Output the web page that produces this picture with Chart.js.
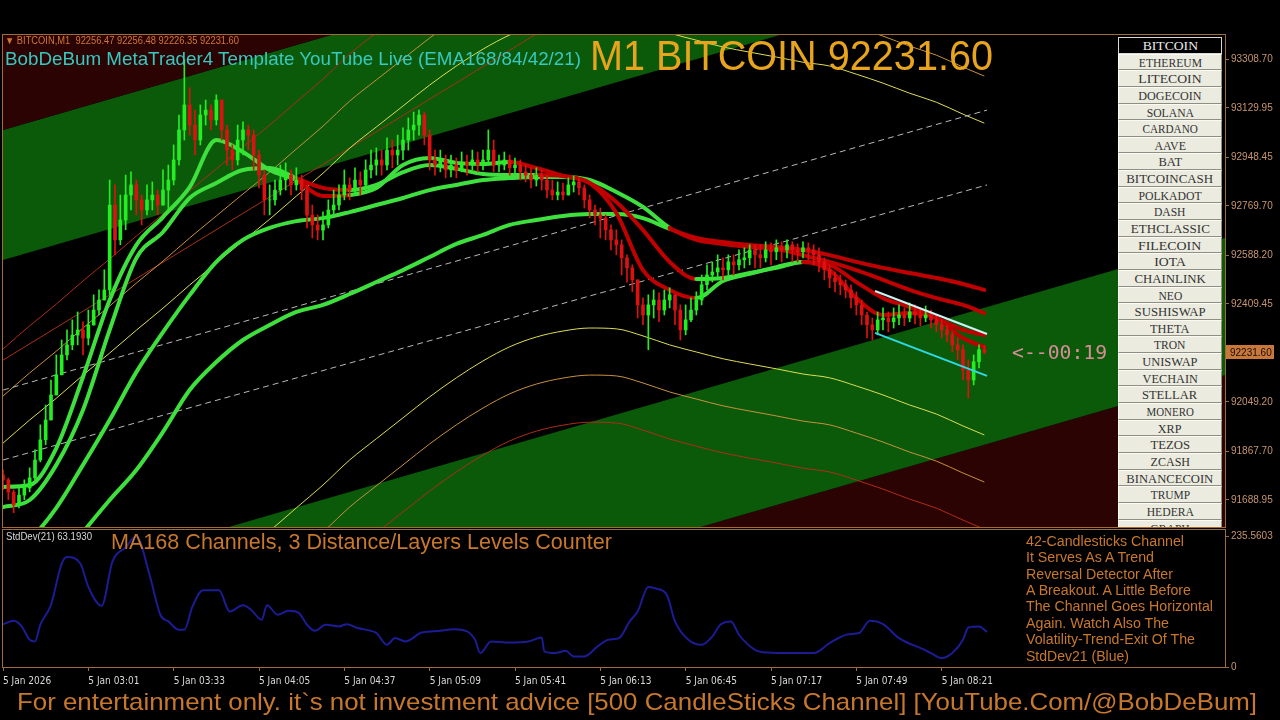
<!DOCTYPE html>
<html>
<head>
<meta charset="utf-8">
<script src="https://cdn.jsdelivr.net/npm/chart.js@4.4.1/dist/chart.umd.min.js"></script>
<style>
  html, body { margin:0; padding:0; background:#000; width:1280px; height:720px; overflow:hidden;
    font-family:"Liberation Sans", Arial, sans-serif; }
  canvas { position:absolute; left:0; }
  #main { top:0; }
  #sub { top:528px; }
  .t { position:absolute; white-space:nowrap; line-height:1; transform-origin:0 0; z-index:5; }
  #coins { position:absolute; left:1118px; top:37px; width:104px; height:490px; overflow:hidden; z-index:4; }
  .coin { height:14.65px; line-height:15px; border:1px solid; border-color:#fbfbf4 #8e8e84 #8e8e84 #fbfbf4;
    background:#ebebdf; color:#333; text-align:center; font-family:"Liberation Serif", serif; font-size:13px; overflow:hidden; }
  .coin span { display:inline-block; white-space:nowrap; transform-origin:50% 50%; }
  .coin.sel { background:#000; color:#ececec; border-color:#d8d8d8; height:14.6px; }
</style>
</head>
<body>
<canvas id="main" width="1280" height="530"></canvas>
<canvas id="sub" width="1280" height="170"></canvas>
<div id="coins"></div>

<div class="t" style="left:5px;top:36px;font-size:10px;color:#d07838" data-w="234">&#9660; BITCOIN,M1&nbsp; 92256.47 92256.48 92226.35 92231.60</div>
<div class="t" style="left:5px;top:49px;font-size:19px;color:#38c8c0" data-w="576">BobDeBum MetaTrader4 Template YouTube Live (EMA168/84/42/21)</div>
<div class="t" style="left:590px;top:35px;font-size:42px;color:#e8a41c" data-w="403">M1 BITCOIN 92231.60</div>
<div class="t" style="left:1012px;top:342px;font-size:20px;color:#d88c96;font-family:'DejaVu Sans Mono',monospace" data-w="95">&lt;--00:19</div>

<div class="t" style="left:6px;top:532px;font-size:10px;color:#d8d8d8" data-w="86">StdDev(21) 63.1930</div>
<div class="t" style="left:111px;top:531px;font-size:22px;color:#c8782c" data-w="501">MA168 Channels, 3 Distance/Layers Levels Counter</div>

<div class="t" style="left:1026px;top:534px;font-size:14px;color:#c8782c" data-w="158">42-Candlesticks Channel</div>
<div class="t" style="left:1026px;top:550px;font-size:14px;color:#c8782c" data-w="128">It Serves As A Trend</div>
<div class="t" style="left:1026px;top:567px;font-size:14px;color:#c8782c" data-w="147">Reversal Detector After</div>
<div class="t" style="left:1026px;top:583px;font-size:14px;color:#c8782c" data-w="165">A Breakout. A Little Before</div>
<div class="t" style="left:1026px;top:599px;font-size:14px;color:#c8782c" data-w="187">The Channel Goes Horizontal</div>
<div class="t" style="left:1026px;top:616px;font-size:14px;color:#c8782c" data-w="143">Again. Watch Also The</div>
<div class="t" style="left:1026px;top:632px;font-size:14px;color:#c8782c" data-w="169">Volatility-Trend-Exit Of The</div>
<div class="t" style="left:1026px;top:649px;font-size:14px;color:#c8782c" data-w="103">StdDev21 (Blue)</div>

<div class="t" style="left:17px;top:690px;font-size:24px;color:#c8782c" data-w="1240">For entertainment only. it`s not investment advice [500 CandleSticks Channel] [YouTube.Com/@BobDeBum]</div>

<script>
// ---- chart data (prices in USD, time in minutes from 5 Jan 02:29) ----
const chartMinutes = 458.25;          // visible time window incl. right margin
const priceTicks = [93308.70, 93129.95, 92948.45, 92769.70, 92588.20, 92409.45, 92049.20, 91867.70, 91688.95];
const priceMin = 91589.7, priceMax = 93398.0;

const firstOpen = 91781;
const closes = [
  91763,91718,91671,91707,91733,91770,91836,91910,91983,92075,
  92149,92222,92259,92295,92314,92284,92332,92387,92424,92461,
  92773,92645,92718,92810,92847,92792,92755,92792,92810,92773,
  92828,92865,92939,93049,93141,93067,93012,93104,93122,93086,
  93159,93049,92975,92939,93012,93049,93030,92957,92883,92792,
  92792,92828,92865,92883,92847,92865,92828,92736,92700,92681,
  92700,92755,92773,92810,92847,92828,92865,92847,92902,92920,
  92939,92920,92975,92957,92975,93012,93049,93067,93104,93030,
  92939,92920,92939,92902,92920,92902,92931,92920,92939,92920,
  92939,92975,92920,92920,92939,92910,92920,92895,92883,92865,
  92883,92865,92828,92810,92821,92810,92847,92858,92836,92792,
  92755,92736,92725,92682,92645,92627,92579,92542,92498,92406,
  92369,92406,92424,92387,92424,92443,92387,92314,92351,92387,
  92424,92480,92516,92527,92542,92535,92564,92553,92572,92579,
  92608,92590,92579,92608,92601,92616,92608,92627,92608,92601,
  92616,92608,92590,92564,92535,92505,92491,92480,92461,92432,
  92406,92369,92333,92314,92351,92358,92344,92358,92369,92358,
  92380,92369,92358,92369,92351,92333,92314,92296,92259,92241,
  92167,92130,92197,92241,92231.60
];
const highs = [
  91800,91770,91726,91733,91763,91807,91873,91965,92038,92130,
  92222,92277,92314,92351,92380,92344,92387,92443,92461,92535,
  92865,92847,92810,92883,92895,92865,92810,92847,92858,92828,
  92902,92920,92994,93104,93307,93204,93122,93141,93159,93141,
  93178,93159,93067,92994,93067,93079,93067,93049,92975,92902,
  92847,92865,92920,92928,92902,92910,92883,92847,92773,92737,
  92748,92792,92828,92847,92902,92873,92910,92895,92939,92975,
  92983,92975,93020,93012,93030,93057,93093,93115,93122,93115,
  93049,92975,92975,92957,92957,92946,92968,92957,92975,92968,
  92975,93049,93012,92957,92968,92957,92946,92939,92920,92910,
  92910,92902,92883,92865,92858,92854,92873,92880,92873,92847,
  92810,92773,92762,92737,92700,92682,92645,92590,92553,92498,
  92432,92443,92461,92450,92461,92469,92443,92406,92406,92432,
  92454,92516,92553,92564,92590,92579,92590,92590,92608,92616,
  92627,92627,92627,92638,92634,92645,92638,92645,92638,92630,
  92638,92634,92627,92616,92579,92553,92527,92516,92498,92480,
  92454,92424,92380,92358,92380,92395,92380,92395,92406,92395,
  92413,92406,92395,92402,92387,92369,92351,92333,92307,92285,
  92259,92204,92222,92259,92256.48
];
const lows = [
  91726,91690,91642,91660,91690,91719,91763,91829,91892,91983,
  92075,92167,92204,92241,92259,92222,92259,92351,92369,92424,
  92443,92590,92627,92682,92755,92737,92700,92737,92755,92737,
  92773,92748,92847,92920,93012,93030,92957,92994,93067,93049,
  93067,93012,92920,92902,92920,92957,92975,92902,92836,92737,
  92737,92773,92810,92828,92810,92828,92792,92689,92652,92645,
  92645,92689,92737,92755,92792,92792,92810,92810,92828,92873,
  92883,92883,92902,92910,92920,92939,92975,93012,93030,92994,
  92902,92883,92895,92873,92876,92873,92895,92883,92902,92895,
  92902,92920,92895,92895,92902,92883,92883,92865,92858,92836,
  92843,92828,92799,92792,92792,92792,92810,92821,92810,92762,
  92726,92700,92652,92645,92608,92590,92516,92490,92454,92358,
  92333,92241,92358,92344,92369,92395,92333,92277,92296,92344,
  92369,92406,92461,92490,92505,92498,92516,92516,92535,92542,
  92553,92542,92542,92564,92553,92572,92564,92579,92564,92564,
  92579,92572,92553,92527,92498,92469,92454,92443,92432,92395,
  92369,92333,92285,92277,92296,92314,92307,92321,92333,92329,
  92344,92336,92329,92344,92321,92307,92285,92270,92233,92204,
  92130,92064,92112,92174,92226.35
];
const barMinutes = 2;

// EMA ribbon, sampled every 10 minutes; 1 = rising (green), 0 = falling (red)
const emaTimes = [0,10,20,30,40,50,60,70,80,90,100,110,120,130,140,150,160,170,180,190,200,210,220,230,240,250,260,270,280,290,300,310,320,330,340,350,360,368];
const ema21 = [91737,91744,91880,92141,92424,92626,92729,92839,93012,92968,92902,92865,92806,92810,92836,92920,92946,92928,92924,92931,92909,92880,92854,92744,92534,92461,92431,92494,92520,92545,92564,92534,92431,92369,92376,92358,92284,92251];
const ema42 = [91663,91689,91818,92020,92314,92578,92674,92799,92854,92902,92909,92872,92836,92828,92847,92894,92920,92906,92887,92883,92883,92880,92854,92784,92681,92564,92501,92505,92523,92542,92564,92553,92490,92431,92398,92358,92314,92295];
const ema84 = [91468,91542,91660,91818,91983,92159,92306,92442,92564,92645,92689,92714,92725,92747,92773,92799,92828,92847,92865,92872,92876,92876,92865,92821,92766,92689,92645,92630,92619,92611,92589,92564,92534,92498,92461,92431,92406,92376];
const ema168 = [91174,91321,91450,91571,91689,91799,91939,92093,92196,92277,92332,92380,92406,92446,92490,92534,92582,92630,92663,92700,92718,92733,92740,92740,92725,92685,92652,92637,92626,92619,92608,92589,92564,92542,92523,92505,92483,92461];
const ema21Up  = [1,1,1,1,1,1,1,1,1,1,1,1,0,0,1,1,1,1,1,1,0,0,0,0,0,0,0,1,1,1,1,0,0,0,0,0,0,0];
const ema42Up  = [1,1,1,1,1,1,1,1,1,1,1,1,0,0,1,1,1,1,1,1,1,0,0,0,0,0,0,1,1,1,1,0,0,0,0,0,0,0];
const ema84Up  = [1,1,1,1,1,1,1,1,1,1,1,1,1,1,1,1,1,1,1,1,1,1,1,1,1,1,0,0,0,0,0,0,0,0,0,0,0,0];
const ema168Up = [1,1,1,1,1,1,1,1,1,1,1,1,1,1,1,1,1,1,1,1,1,1,1,1,1,1,0,0,0,0,0,0,0,0,0,0,0,0];

// MA168 channel centre and its 3 distance levels
const channelMid = [91325,91410,91490,91575,91656,91740,91821,91906,91987,92068,92148,92233,92317,92409,92487,92564,92641,92711,92773,92825,92861,92883,92894,92891,92865,92832,92806,92781,92762,92744,92725,92711,92681,92648,92611,92578,92534,92501];
const channelLevels = [573, 746, 919];

// older trend line on the left
const trendTimes = [0, 200];
const trendPrices = [92203, 93402];

// trend band boundaries at start / end of the window
const bandTimes = [0, 458.25];
const bandStart = [93048.8, 92571.0, 91348.9, 90847.2];
const bandEnd   = [94349.9, 93872.1, 92651.9, 92148.3];

// dashed regression lines
const dashTimes = [0, 369];
const dashStart = [92093, 91836];
const dashEnd   = [93122, 92847];

// 42-candlestick channel
const chanTimes = [327, 369];
const chanUpper = [92457, 92299];
const chanLower = [92303, 92145];

// StdDev(21)
const sdTime  = [0,4,7,10,12,14,18,22,24,29,32,37,41,46,50,55,59,62,66,68,71,75,81,85,90,93,97,99,103,107,111,114,117,121,126,129,133,138,140,144,147,151,157,164,169,174,177,179,183,190,197,202,203,207,211,214,218,223,227,231,235,238,242,245,249,252,257,262,266,269,273,276,282,287,295,304,310,317,321,325,330,336,345,348,352,356,360,362,366,369];
const sdValue = [77,83,73,49,46,76,112,186,198,186,144,110,189,215,235,165,94,82,67,67,108,138,138,100,111,103,85,111,94,101,97,76,65,76,73,77,70,65,61,40,52,46,62,65,68,64,49,25,46,44,46,53,28,25,29,19,19,37,49,52,82,100,144,141,129,82,49,40,55,76,82,58,31,26,25,25,43,59,61,83,77,52,32,25,16,25,49,71,73,63.193];
const sdTicks = [235.5603, 0];
const sdMax = 246.35;

const timeTicks  = [0,32,64,96,128,160,192,224,256,288,320,352];
const timeLabels = ['5 Jan 2026','5 Jan 03:01','5 Jan 03:33','5 Jan 04:05','5 Jan 04:37','5 Jan 05:09','5 Jan 05:41','5 Jan 06:13','5 Jan 06:45','5 Jan 07:17','5 Jan 07:49','5 Jan 08:21'];

const coins = ['BITCOIN','ETHEREUM','LITECOIN','DOGECOIN','SOLANA','CARDANO','AAVE','BAT','BITCOINCASH','POLKADOT','DASH','ETHCLASSIC','FILECOIN','IOTA','CHAINLINK','NEO','SUSHISWAP','THETA','TRON','UNISWAP','VECHAIN','STELLAR','MONERO','XRP','TEZOS','ZCASH','BINANCECOIN','TRUMP','HEDERA','GRAPH'];

// ---- colours ----
const FRAME = '#a06c3a';
const AXIS_TXT = '#c8966e';
const BAND_GREEN = '#0a5a0a', BAND_RED = '#2c0303';
const EMA_GREEN = '#3ee03e', EMA_RED = '#c00000';
const BULL = '#22ee22', BEAR = '#dd1111';
const LEVEL_COLORS = ['#dcdc55', '#c8903c', '#b02c18'];

// ---- coin buttons ----
const coinBox = document.getElementById('coins');
coins.forEach((c, i) => {
  const d = document.createElement('div');
  d.className = 'coin' + (i === 0 ? ' sel' : '');
  const s = document.createElement('span');
  s.textContent = c;
  d.appendChild(s);
  coinBox.appendChild(d);
  const w = s.getBoundingClientRect().width;
  if (w > 0) s.style.transform = 'scaleX(' + (c.length * 7.9 / w) + ')';
});

// ---- helpers ----
const pts = (xs, ys) => xs.map((x, i) => ({ x: x, y: ys[i] }));
const opens = closes.map((c, i) => i === 0 ? firstOpen : closes[i - 1]);
const candleTime = closes.map((c, i) => i * barMinutes);
const candleColor = i => closes[i] >= opens[i] ? BULL : BEAR;

function lineSet(data, color, width, order, extra) {
  return Object.assign({
    type: 'line', data: data, borderColor: color, borderWidth: width,
    pointRadius: 0, fill: false, order: order, clip: 0, tension: 0
  }, extra || {});
}

function emaSet(values, up, order) {
  return lineSet(pts(emaTimes, values), EMA_GREEN, 4, order, {
    cubicInterpolationMode: 'monotone',
    borderCapStyle: 'round', borderJoinStyle: 'round',
    segment: { borderColor: c => up[c.p1DataIndex] ? EMA_GREEN : EMA_RED }
  });
}

const datasets = [];
// bands (drawn lowest)
datasets.push(lineSet(pts(bandTimes, [bandStart[0], bandEnd[0]]), 'rgba(0,0,0,0)', 0, 100, { fill: 'end', backgroundColor: BAND_RED }));
datasets.push(lineSet(pts(bandTimes, [bandStart[1], bandEnd[1]]), 'rgba(0,0,0,0)', 0, 100, { fill: '-1', backgroundColor: BAND_GREEN }));
datasets.push(lineSet(pts(bandTimes, [bandStart[2], bandEnd[2]]), 'rgba(0,0,0,0)', 0, 100, { fill: '+1', backgroundColor: BAND_GREEN }));
datasets.push(lineSet(pts(bandTimes, [bandStart[3], bandEnd[3]]), 'rgba(0,0,0,0)', 0, 100, { fill: 'start', backgroundColor: BAND_RED }));

// MA168 channel distance levels
channelLevels.forEach((d, k) => {
  datasets.push(lineSet(pts(emaTimes, channelMid.map(v => v + d)), LEVEL_COLORS[k], 1, 90, { cubicInterpolationMode: 'monotone' }));
  datasets.push(lineSet(pts(emaTimes, channelMid.map(v => v - d)), LEVEL_COLORS[k], 1, 90, { cubicInterpolationMode: 'monotone' }));
});
datasets.push(lineSet(pts(trendTimes, trendPrices), '#a83018', 1, 90));

// dashed lines
dashStart.forEach((v, k) => {
  datasets.push(lineSet(pts(dashTimes, [v, dashEnd[k]]), '#b8b8b8', 1, 85, { borderDash: [6, 4] }));
});

// EMA ribbon
datasets.push(emaSet(ema168, ema168Up, 60));
datasets.push(emaSet(ema84, ema84Up, 59));
datasets.push(emaSet(ema42, ema42Up, 58));
datasets.push(emaSet(ema21, ema21Up, 57));

// candles
datasets.push({
  type: 'bar', order: 20, grouped: false, barThickness: 1, clip: 0,
  data: candleTime.map((t, i) => ({ x: t, y: [Math.min(lows[i], opens[i], closes[i]), Math.max(highs[i], opens[i], closes[i])] })),
  backgroundColor: c => candleColor(c.dataIndex)
});
datasets.push({
  type: 'bar', order: 19, grouped: false, barThickness: 3, clip: 0,
  data: candleTime.map((t, i) => ({ x: t, y: [opens[i], closes[i]] })),
  backgroundColor: c => candleColor(c.dataIndex)
});

// 42-candle channel
datasets.push(lineSet(pts(chanTimes, chanUpper), '#c8f4f4', 2, 10));
datasets.push(lineSet(pts(chanTimes, chanLower), '#30d8e4', 2, 10));

const framePlugin = {
  id: 'frame',
  afterDraw(chart) {
    const { ctx, chartArea: a } = chart;
    ctx.save();
    ctx.strokeStyle = FRAME;
    ctx.lineWidth = 1;
    ctx.strokeRect(a.left - 0.5, a.top - 0.5, a.right - a.left + 1, a.bottom - a.top + 1);
    ctx.restore();
  }
};

const bidPlugin = {
  id: 'bid',
  afterDraw(chart) {
    const { ctx, chartArea: a } = chart;
    const last = closes[closes.length - 1];
    const y = Math.round(chart.scales.y.getPixelForValue(last));
    ctx.save();
    ctx.fillStyle = '#c8783a';
    ctx.fillRect(a.right + 1, y - 7, 48, 14);
    ctx.fillStyle = '#1c0a00';
    ctx.font = '10px "Liberation Sans", Arial';
    ctx.textBaseline = 'middle';
    ctx.fillText(last.toFixed(2), a.right + 5, y + 1);
    ctx.restore();
  }
};

const axisFont = { family: '"Liberation Sans", Arial', size: 10 };
function noPad(s) { s.paddingTop = 0; s.paddingBottom = 0; s.paddingLeft = 0; s.paddingRight = 0; }

new Chart(document.getElementById('main'), {
  type: 'line',
  data: { datasets: datasets },
  plugins: [framePlugin, bidPlugin],
  options: {
    responsive: false, animation: false, events: [],
    layout: { padding: { left: 3, top: 35, right: 0, bottom: 3 } },
    plugins: { legend: { display: false }, tooltip: { enabled: false } },
    scales: {
      x: { type: 'linear', min: 0, max: chartMinutes, display: false, offset: false },
      y: {
        position: 'right', min: priceMin, max: priceMax,
        afterFit(s) { s.width = 55; noPad(s); },
        afterBuildTicks(s) { s.ticks = priceTicks.map(v => ({ value: v })); },
        ticks: { color: AXIS_TXT, font: axisFont, padding: 2, callback: v => Number(v).toFixed(2) },
        grid: { drawOnChartArea: false, color: FRAME, tickLength: 4 },
        border: { color: FRAME }
      }
    }
  }
});

new Chart(document.getElementById('sub'), {
  type: 'line',
  data: { datasets: [lineSet(pts(sdTime, sdValue), '#1c1c96', 2, 1, { cubicInterpolationMode: 'monotone' })] },
  plugins: [framePlugin],
  options: {
    responsive: false, animation: false, events: [],
    layout: { padding: { left: 3, top: 2, right: 0, bottom: 0 } },
    plugins: { legend: { display: false }, tooltip: { enabled: false } },
    scales: {
      x: {
        type: 'linear', min: 0, max: chartMinutes, offset: false,
        afterFit(s) { s.height = 31; noPad(s); },
        afterBuildTicks(s) { s.ticks = timeTicks.map(v => ({ value: v })); },
        ticks: { align: 'start', autoSkip: false, maxRotation: 0, color: '#d8d8d8',
          font: { family: '"Liberation Sans Narrow", "DejaVu Sans Condensed", "Liberation Sans"', size: 10 }, padding: 4,
          callback: (v, i) => timeLabels[i] },
        grid: { drawOnChartArea: false, color: FRAME, tickLength: 4 },
        border: { color: FRAME }
      },
      y: {
        position: 'right', min: 0, max: sdMax,
        afterFit(s) { s.width = 55; noPad(s); },
        afterBuildTicks(s) { s.ticks = sdTicks.map(v => ({ value: v })); },
        ticks: { color: AXIS_TXT, font: axisFont, padding: 2, callback: v => v === 0 ? '0' : Number(v).toFixed(4) },
        grid: { drawOnChartArea: false, color: FRAME, tickLength: 4 },
        border: { color: FRAME }
      }
    }
  }
});

// squeeze text to the measured widths of the original
document.querySelectorAll('[data-w]').forEach(el => {
  const w = el.getBoundingClientRect().width;
  if (w > 0) el.style.transform = 'scaleX(' + (Number(el.dataset.w) / w) + ')';
});
</script>
</body>
</html>
